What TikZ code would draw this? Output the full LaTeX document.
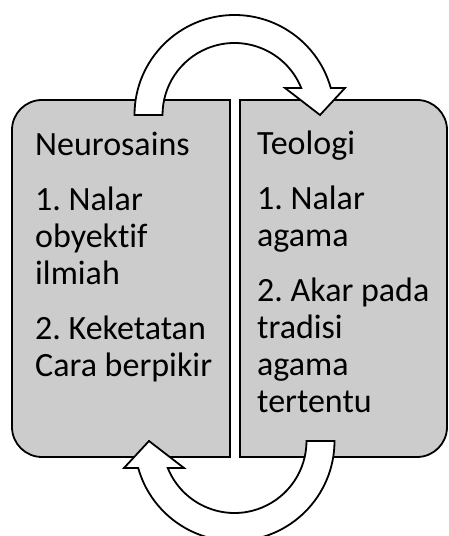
\documentclass[tikz,border=0pt]{standalone}
\usepackage{fontspec}
\setmainfont{Carlito}[Ligatures=NoCommon]
\definecolor{boxgray}{HTML}{CCCCCC}
\frenchspacing
\begin{document}
\begin{tikzpicture}[x=1pt,y=1pt,
  boxshape/.style={draw=black, fill=boxgray, line width=1.8pt},
  cyclearrow/.style={draw=black, fill=white, line width=1.8pt, line join=miter},
  boxtext/.style={anchor=base west, align=left, inner sep=0pt, font=\fontsize{34}{37}\selectfont}]
\useasboundingbox (0,0) rectangle (448,536);
% boxes
\path[boxshape] (230,436) -- (42,436) arc[start angle=90,end angle=180,radius=30]
  -- (12,109) arc[start angle=180,end angle=270,radius=30] -- (230,79) -- cycle;
\path[boxshape] (240,436) -- (417,436) arc[start angle=90,end angle=0,radius=30]
  -- (447,109) arc[start angle=0,end angle=-90,radius=30] -- (240,79) -- cycle;
% texts (anchored at the baseline of the last line)
\node[boxtext] (neuro) at (35,159) {Neurosains\\[18pt]1. Nalar\\obyektif\\ilmiah\\[18pt]2. Keketatan\\Cara berpikir};
\node[boxtext] (teo) at (257,123) {Teologi\\[18pt]1. Nalar\\agama\\[18pt]2. Akar pada\\tradisi\\agama\\tertentu};
% circular arrows
\path[cyclearrow] (134.5,421) arc[start angle=180,end angle=15.66,radius=100]
  -- (345,448) -- (320,421) -- (285,448) -- (301.24,448)
  arc[start angle=22.03,end angle=180,radius=72] -- cycle;
\path[cyclearrow, rotate around={180:(234.5,258)}] (134.5,421) arc[start angle=180,end angle=15.66,radius=100]
  -- (345,448) -- (320,421) -- (285,448) -- (301.24,448)
  arc[start angle=22.03,end angle=180,radius=72] -- cycle;
\end{tikzpicture}
\end{document}
